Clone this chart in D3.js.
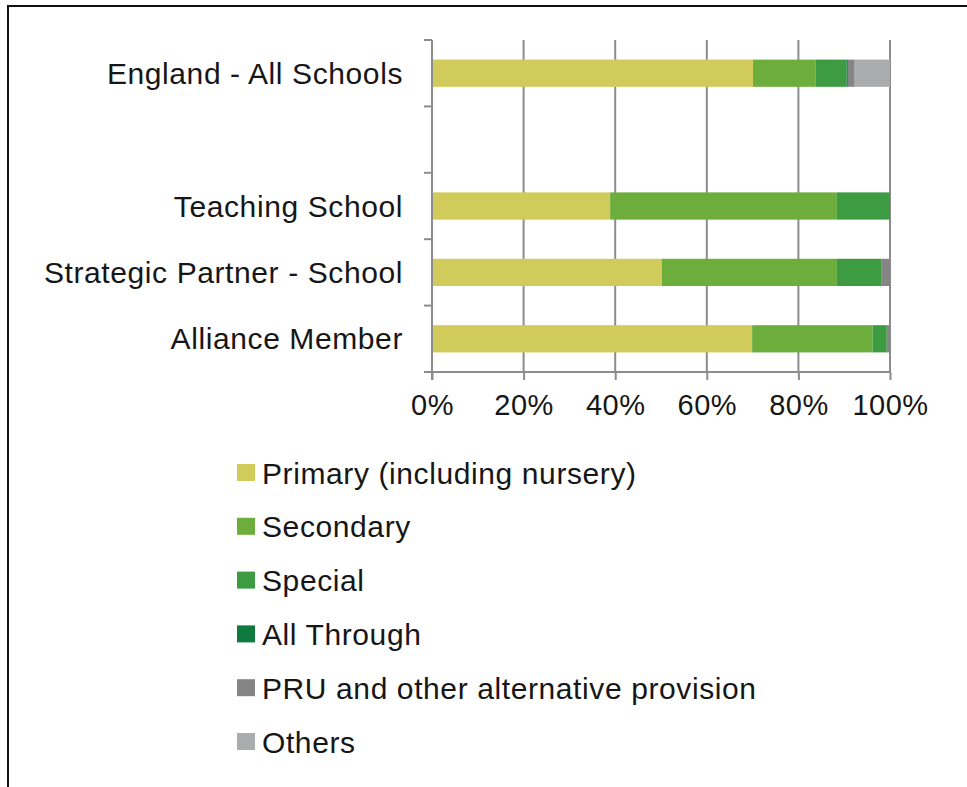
<!DOCTYPE html>
<html>
<head>
<meta charset="utf-8">
<script src="https://cdn.jsdelivr.net/npm/d3@7.9.0/dist/d3.min.js"></script>
<style>
  html, body { margin: 0; padding: 0; background: #fff; }
  svg { display: block; font-family: Arial, "Liberation Sans", sans-serif; }
</style>
</head>
<body>
<svg id="chart" width="967" height="787"></svg>
<script>
// categories top to bottom; the blank one is the empty slot under England
var categories = ['England - All Schools', ' ', 'Teaching School', 'Strategic Partner - School', 'Alliance Member']
var seriesNames = ['Primary (including nursery)', 'Secondary', 'Special', 'All Through', 'PRU and other alternative provision', 'Others']
var seriesColors = ['#d0cb5a', '#6cad3b', '#3d9b42', '#0e7a3d', '#858585', '#abacad']

// percent per category, one array per series (same order as categories)
var primary     = [70.1, 0, 38.9, 50.2, 69.9]
var secondary   = [13.7, 0, 49.5, 38.2, 26.3]
var special     = [6.7, 0, 11.6, 9.8, 3.1]
var allThrough  = [0.3, 0, 0, 0, 0]
var pru         = [1.5, 0, 0, 1.8, 0.7]
var others      = [7.7, 0, 0, 0, 0]
var xTicks = [0, 20, 40, 60, 80, 100]

;(function () {
    var seriesValues = [primary, secondary, special, allThrough, pru, others]
    var svg = d3.select('#chart')
    var textColor = '#161616'
    var gridColor = '#8c8c8c'

    // frame lines (top and left only, like the cropped original)
    svg.append('line').attr('x1', 7).attr('x2', 967).attr('y1', 6).attr('y2', 6)
        .attr('stroke', '#111').attr('stroke-width', 2)
    svg.append('line').attr('x1', 8).attr('x2', 8).attr('y1', 6).attr('y2', 787)
        .attr('stroke', '#111').attr('stroke-width', 2)

    var plotL = 432, plotR = 890, plotT = 40, plotB = 372
    var x = d3.scaleLinear().domain([0, 100]).range([plotL, plotR])
    var y = d3.scaleBand().domain(categories).range([plotT, plotB]).paddingInner(0.59).paddingOuter(0.295)

    var rows = categories.map(function (c, i) {
        var r = { cat: c }
        seriesNames.forEach(function (s, j) { r[s] = seriesValues[j][i] })
        return r
    })
    var stacked = d3.stack().keys(seriesNames)(rows)

    // vertical gridlines
    svg.append('g').selectAll('line').data(xTicks.slice(1)).enter().append('line')
        .attr('x1', function (d) { return x(d) }).attr('x2', function (d) { return x(d) })
        .attr('y1', plotT).attr('y2', plotB)
        .attr('stroke', gridColor).attr('stroke-width', 2)

    // bars
    svg.append('g').selectAll('g').data(stacked).enter().append('g')
        .attr('fill', function (d, i) { return seriesColors[i] })
        .selectAll('rect').data(function (d) { return d }).enter().append('rect')
        .attr('x', function (d) { return x(d[0]) })
        .attr('width', function (d) { return Math.max(0, x(d[1]) - x(d[0])) })
        .attr('y', function (d) { return y(d.data.cat) })
        .attr('height', y.bandwidth())

    // category axis: line + ticks at band boundaries
    var bounds = d3.range(categories.length + 1).map(function (i) {
        return plotT + i * (plotB - plotT) / categories.length
    })
    var yAx = svg.append('g')
    yAx.append('line').attr('x1', plotL).attr('x2', plotL).attr('y1', plotT).attr('y2', plotB + 8)
        .attr('stroke', gridColor).attr('stroke-width', 2)
    yAx.selectAll('line.tk').data(bounds).enter().append('line').attr('class', 'tk')
        .attr('x1', plotL - 8).attr('x2', plotL)
        .attr('y1', function (d) { return d }).attr('y2', function (d) { return d })
        .attr('stroke', gridColor).attr('stroke-width', 2)
    yAx.selectAll('text').data(categories).enter().append('text')
        .attr('x', plotL - 29)
        .attr('y', function (d) { return y(d) + y.bandwidth() / 2 })
        .attr('dy', '0.35em')
        .attr('text-anchor', 'end')
        .attr('font-size', 30)
        .attr('letter-spacing', 0.6)
        .attr('fill', textColor)
        .text(function (d) { return d })

    // value axis
    var xAx = svg.append('g').attr('transform', 'translate(0,' + plotB + ')')
        .call(d3.axisBottom(x).tickValues(xTicks).tickSize(8).tickPadding(14)
            .tickFormat(function (d) { return d + '%' }))
    xAx.select('.domain').attr('stroke', gridColor).attr('stroke-width', 2)
        .attr('d', 'M' + plotL + ',0H' + plotR)
    xAx.selectAll('.tick line').attr('stroke', gridColor).attr('stroke-width', 2)
    xAx.selectAll('.tick text').attr('font-size', 29)
        .attr('font-family', 'Arial, "Liberation Sans", sans-serif')
        .attr('fill', textColor).attr('letter-spacing', 0.5)

    // legend
    var legend = svg.append('g').attr('transform', 'translate(237,473)')
    var item = legend.selectAll('g').data(seriesNames).enter().append('g')
        .attr('transform', function (d, i) { return 'translate(0,' + i * 53.8 + ')' })
    item.append('rect').attr('x', 0).attr('y', -9).attr('width', 18).attr('height', 17)
        .attr('fill', function (d, i) { return seriesColors[i] })
    item.append('text').attr('x', 25).attr('dy', '0.35em')
        .attr('font-size', 30).attr('letter-spacing', 0.6).attr('fill', textColor)
        .text(function (d) { return d })
})()
</script>
</body>
</html>
